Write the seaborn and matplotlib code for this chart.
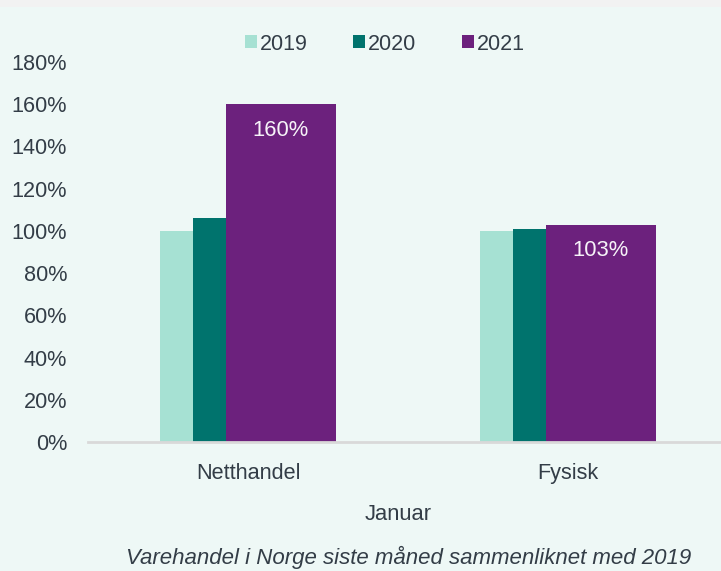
import matplotlib
matplotlib.use("Agg")
import matplotlib.pyplot as plt
from matplotlib.patches import Patch, Rectangle
import numpy as np
import pandas as pd
import seaborn as sns

# --- data ---
categories = ["Netthandel", "Fysisk"]
years = ["2019", "2020", "2021"]
values_2019 = [100, 100]
values_2020 = [106, 101]
values_2021 = [160, 103]
y_ticks = [0, 20, 40, 60, 80, 100, 120, 140, 160, 180]

# --- style ---
bg = "#EEF8F6"
txt = "#333D47"
colors = {"2019": "#A6E1D3", "2020": "#00736D", "2021": "#6C217D"}
# bar offset and width per year (data units, one category = 1)
layout = {"2019": (-0.2234, 0.103), "2020": (-0.1203, 0.103), "2021": (0.1031, 0.344)}

sns.set_theme(style="white")
plt.rcParams["font.family"] = ["Liberation Sans", "DejaVu Sans"]

df = pd.DataFrame({
    "Kategori": categories * 3,
    "År": [y for y in years for _ in categories],
    "Verdi": values_2019 + values_2020 + values_2021,
})
df["pos"] = [categories.index(k) for k in df["Kategori"]]

fig = plt.figure(figsize=(7.21, 5.71), dpi=100)
fig.patch.set_facecolor(bg)
fig.add_artist(Rectangle((0, 1 - 7 / 571), 1, 7 / 571, transform=fig.transFigure,
                         facecolor="#F2F2F2", edgecolor="none"))

ax = fig.add_axes([88 / 721, 129 / 571, 640 / 721, 380 / 571])
ax.set_facecolor(bg)

for yr in years:
    off, w = layout[yr]
    sub = df[df["År"] == yr].copy()
    sub["x"] = sub["pos"] + off
    sns.barplot(data=sub, x="x", y="Verdi", native_scale=True, width=w,
                color=colors[yr], errorbar=None, linewidth=0, saturation=1, ax=ax)

# value labels for 2021
off21 = layout["2021"][0]
for i, v in enumerate(values_2021):
    ax.annotate(f"{v}%", xy=(i + off21, v), xytext=(0, -26), textcoords="offset pixels",
                ha="center", va="center", color="#F6F2F8", fontsize=15.8)

ax.set_xlim(-0.5, 1.5)
ax.set_ylim(0, 180)
ax.set_yticks(y_ticks)
ax.set_yticklabels([f"{t}%" for t in y_ticks])
ax.set_xticks(range(len(categories)))
ax.set_xticklabels(categories)
ax.tick_params(axis="y", length=0, pad=15, labelsize=15.6, labelcolor=txt)
ax.tick_params(axis="x", length=0, pad=15, labelsize=15.6, labelcolor=txt)
ax.set_xlabel("")
ax.set_ylabel("")
for s in ["left", "right", "top"]:
    ax.spines[s].set_visible(False)
ax.spines["bottom"].set_color("#D9D9D9")
ax.spines["bottom"].set_linewidth(2)

fig.text(398 / 721, 1 - 514 / 571, "Januar", ha="center", va="center",
         fontsize=15.8, color=txt)
fig.text(409 / 721, 1 - 557 / 571, "Varehandel i Norge siste måned sammenliknet med 2019",
         ha="center", va="center", fontsize=16, style="italic", color=txt)

handles = [Patch(facecolor=colors[y], edgecolor="none", label=y) for y in years]
fig.legend(handles=handles, loc="center", bbox_to_anchor=(385 / 721, 1 - 44 / 571),
           ncol=3, frameon=False, fontsize=15.5, handlelength=0.55, handleheight=0.55,
           handletextpad=0.15, columnspacing=2.1, labelcolor=txt)

fig.savefig("out.png", dpi=100, facecolor=bg)
